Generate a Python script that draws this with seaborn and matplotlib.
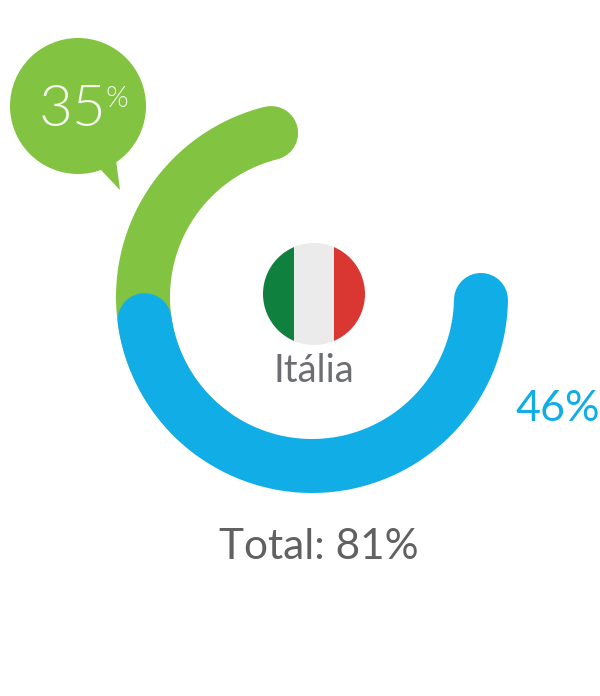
import numpy as np
import pandas as pd
import seaborn as sns
import matplotlib.pyplot as plt
from matplotlib.patches import Circle, Polygon

# Data
series_names = ['green', 'blue']
series_values = [35, 46]
series_colors = ['#82c341', '#10ade6']
total_label = 'Total: 81%'
country = 'Itália'
flag_colors = ['#10803f', '#ebebeb', '#db3732']

# Ring geometry, in pixels of the 600x696 picture
cx, cy, radius = 312, 297, 169
band = 54
deg_per_pct = 3.72
start_angle = {'green': 104, 'blue': -1}
direction = {'green': 1, 'blue': -1}

sns.set_theme(style='white')
plt.rcParams['font.family'] = ['Lato', 'DejaVu Sans']

fig = plt.figure(figsize=(6, 6.96), dpi=100)
ax = fig.add_axes([0, 0, 1, 1])
px = 72 / 100  # points per pixel

# Arcs: green first so that blue sits on top
for name, value, color in zip(series_names, series_values, series_colors):
    ang = start_angle[name] + direction[name] * np.linspace(0, value * deg_per_pct, 200)
    arc = pd.DataFrame({'x': cx + radius * np.cos(np.radians(ang)),
                        'y': cy - radius * np.sin(np.radians(ang))})
    sns.lineplot(data=arc, x='x', y='y', sort=False, estimator=None, color=color,
                 linewidth=band * px, solid_capstyle='round', ax=ax, legend=False)

ax.axis('off')

# Speech bubble for the green value
ax.add_patch(Circle((78, 106), 68, fc=series_colors[0], ec='none', zorder=3))
ax.add_patch(Polygon([(101, 170), (120, 190), (116, 160)], fc=series_colors[0], ec='none', zorder=3))
ax.text(73, 110, str(series_values[0]), color='#f4f8ee', fontsize=42, ha='center', va='center',
        zorder=4, fontweight=300)
ax.text(117, 99, '%', color='#f4f8ee', fontsize=21, ha='center', va='center', zorder=4, fontweight=300)

# Flag clipped to a circle
flag_x, flag_y, flag_r = 314, 294, 51
stripe_left = [flag_x - flag_r - 5, 294, 334]
stripe_right = [294, 334, flag_x + flag_r + 5]
clip = Circle((flag_x, flag_y), flag_r, transform=ax.transData)
for left, right, c in zip(stripe_left, stripe_right, flag_colors):
    bar = ax.bar(left, 2 * flag_r, width=right - left, align='edge',
                 bottom=flag_y - flag_r, color=c, zorder=3, linewidth=0)
    bar[0].set_clip_path(clip)

ax.set_xlim(0, 600)
ax.set_ylim(696, 0)
ax.set_aspect('equal')

ax.text(314, 371, country, color='#6d6e71', fontsize=27.5, ha='center', va='center')
ax.text(558, 409, f'{series_values[1]}%', color=series_colors[1], fontsize=31, ha='center', va='center')
ax.text(319, 547, total_label, color='#616161', fontsize=30.5, ha='center', va='center')

fig.savefig('out.png', dpi=100)
